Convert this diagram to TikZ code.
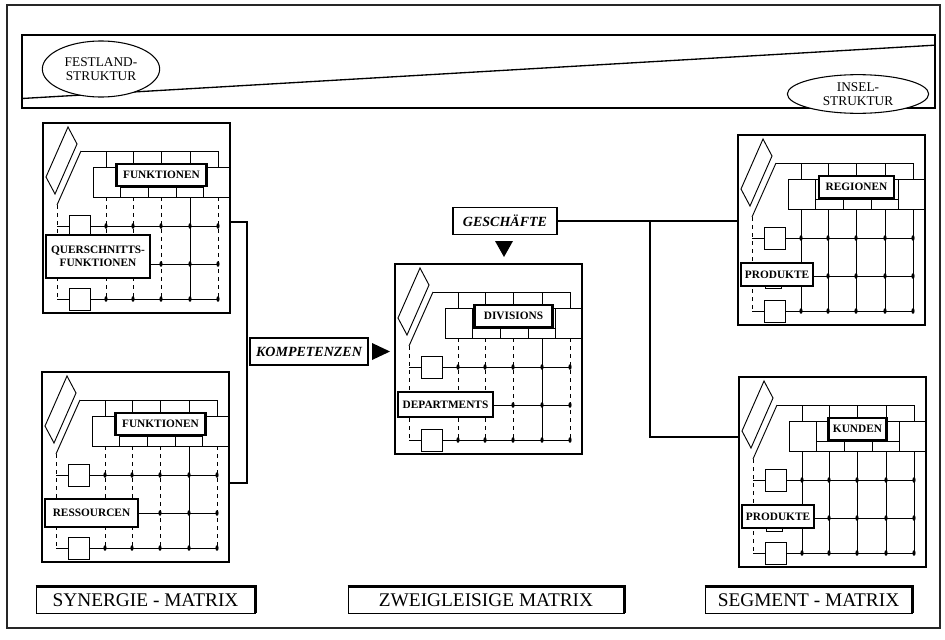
\documentclass[tikz,border=0pt]{standalone}
\usepackage{fontspec}
\setmainfont{Liberation Serif}
\usetikzlibrary{shapes.geometric}
\tikzset{
  pl/.style={line width=0.7pt},
  colstyle/.style={dashed},
  framebox/.style={draw, line width=0.8pt, anchor=north west, inner sep=0pt, outer sep=0pt,
    minimum width=140.25pt, minimum height=142.5pt},
  hdr/.style={draw, line width=1.6pt, fill=white, inner sep=0pt, minimum height=17pt,
    font=\fontsize{8.5}{9}\selectfont\bfseries},
  rowlab/.style={draw, line width=1.6pt, fill=white, inner sep=0pt, align=center,
    font=\fontsize{8.5}{9.5}\selectfont\bfseries},
  conn/.style={line width=1.1pt},
  botlab/.style={draw, line width=0.7pt, inner sep=0pt, minimum height=19.5pt,
    font=\fontsize{14.5}{16}\selectfont},
  boldlab/.style={draw, line width=1.3pt, inner sep=0pt, minimum height=20pt,
    font=\fontsize{10.5}{11}\selectfont\bfseries\itshape},
  ell/.style={draw, ellipse, line width=0.8pt, inner sep=0pt, align=center,
    font=\fontsize{10}{11}\selectfont}
}
% #1 name, #2 x, #3 y, #4 header, #5 header width px, #6 row label, #7 row box right, #8 row box top, #9 row box bottom
\newcommand\mpanel[9]{%
 \begin{scope}[shift={(#2,#3)}]
  \node[framebox] (#1) at (0,0) {};
  \draw[pl] (25,4) -- (34,21) -- (12,71) -- (3,54) -- cycle;
  \draw[pl] (38,28) -- (14,82);
  \draw[pl,dashed] (14,82) -- (14,176);
  \draw[pl] (38,28) -- (175,28) -- (175,44);
  \foreach \cx in {63,90,118,147} \draw[pl] (\cx,28) -- (\cx,44);
  \draw[pl] (50,44) rectangle (77,74);
  \draw[pl] (77,44) rectangle (160,74);
  \draw[pl] (77,64) rectangle (105,74);
  \draw[pl] (105,64) rectangle (133,74);
  \draw[pl] (133,64) rectangle (160,74);
  \draw[pl] (160,44) rectangle (187,74);
  \node[hdr, minimum width=#5*0.75pt] (#1-h) at (118.5,52) {#4};
  \foreach \cx in {63,90,118,175} \draw[pl,colstyle] (\cx,74) -- (\cx,176);
  \draw[pl] (147,74) -- (147,176);
  \draw[pl] (14,103) -- (175,103);
  \draw[pl] (#7,141) -- (175,141);
  \draw[pl] (14,176) -- (175,176);
  \draw[pl,fill=white] (26,92) rectangle (47,114);
  \draw[pl,fill=white] (26,165) rectangle (47,187);
  \node[rowlab, minimum width={(#7-3)*0.75pt}, minimum height={(#9-#8)*0.75pt}] (#1-r)
     at ({(3+#7)/2},{(#8+#9)/2}) {#6};
  \foreach \cx in {63,90,118,147,175} {
    \fill (\cx,103) ellipse [x radius=1.2pt, y radius=2.1pt];
    \fill (\cx,176) ellipse [x radius=1.2pt, y radius=2.1pt];
    \pgfmathtruncatemacro\dd{\cx>#7}
    \ifnum\dd=1 \fill (\cx,141) ellipse [x radius=1.2pt, y radius=2.1pt]; \fi
  }
 \end{scope}}
\begin{document}
\begin{tikzpicture}[x=0.75pt,y=-0.75pt]
\useasboundingbox (0,0) rectangle (945,639);
% outer frame
\draw[line width=0.8pt, black!85] (7,5) rectangle (940,628);
\draw[line width=1.4pt, black!85] (7,5) -- (940,5);
% banner
\node[draw, line width=0.8pt, inner sep=0pt, minimum width=684.75pt, minimum height=54.75pt] (banner) at (478.5,71.5) {};
\draw[line width=1pt] ([yshift=7.5pt]banner.south west) -- ([yshift=-8pt]banner.north east);
\node[ell, fill=white, minimum width=88pt, minimum height=42pt] (fest) at (101,69) {FESTLAND-\\STRUKTUR};
\node[ell, fill=white, minimum width=106pt, minimum height=29pt] (insel) at (858,94) {INSEL-\\STRUKTUR};

% panels
\mpanel{syn1}{43}{123}{FUNKTIONEN}{90}{QUERSCHNITTS-\\FUNKTIONEN}{107}{112}{155}
\mpanel{syn2}{42}{372}{FUNKTIONEN}{90}{RESSOURCEN}{96}{127}{155}
\mpanel{zwei}{395}{264}{DIVISIONS}{78}{DEPARTMENTS}{98}{128}{153}
\tikzset{colstyle/.style={}}
\mpanel{seg1}{738}{135}{REGIONEN}{75}{PRODUKTE}{75}{128}{151}
\mpanel{seg2}{739}{377}{KUNDEN}{58}{PRODUKTE}{75}{128}{151}
\draw[pl] (765,285) rectangle (781,288);
\draw[pl] (766,528) rectangle (782,531);

% KOMPETENZEN
\coordinate (kb1) at (247,222);
\coordinate (kb2) at (247,483);
\draw[conn] (syn1.east |- kb1) -- (kb1) -- (kb2) -- (syn2.east |- kb2);
\node[boldlab, minimum width=88.5pt] (komp) at (309,351.5) {KOMPETENZEN};
\fill (372,343) -- (390,351.5) -- (372,360) -- cycle;

% GESCHAEFTE
\node[boldlab, minimum width=78pt, line width=1pt] (gesch) at (505,221) {GESCHÄFTE};
\fill (495,241) -- (513,241) -- (504,257) -- cycle;
\coordinate (gj) at (650,221);
\coordinate (gj2) at (650,437);
\draw[conn] (gesch.east) -- (gj) -- (seg1.west |- gj);
\draw[conn] (gj) -- (gj2) -- (seg2.west |- gj2);

% bottom labels
\node[botlab, minimum width=164.25pt] (synlab) at (145.5,600) {SYNERGIE - MATRIX};
\node[botlab, minimum width=207pt] (zwlab) at (486,600) {ZWEIGLEISIGE MATRIX};
\node[botlab, minimum width=155.25pt] (seglab) at (808.5,600) {SEGMENT - MATRIX};
\foreach \n in {synlab,zwlab,seglab}
  \draw[line width=2pt] (\n.north west) -- (\n.north east) -- (\n.south east);
\end{tikzpicture}
\end{document}
